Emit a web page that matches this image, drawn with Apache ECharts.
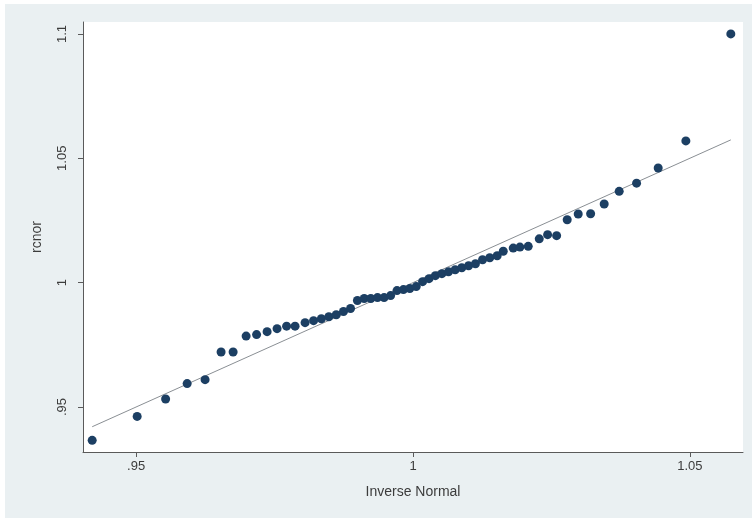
<!DOCTYPE html>
<html>
<head>
<meta charset="utf-8">
<title>Normal quantile plot of rcnor</title>
<script src="https://cdn.jsdelivr.net/npm/echarts@6/dist/echarts.min.js"></script>
<style>
  html, body { margin: 0; padding: 0; background: #ffffff; }
  #chart { width: 752px; height: 518px; }
</style>
</head>
<body>
<div id="chart"></div>
<script>
// Inverse-normal quantiles (x) and the sorted rcnor values (y)
const inverseNormal = [
  0.94206, 0.95018, 0.95532, 0.95921, 0.96245, 0.96534, 0.96751, 0.96986, 0.97175, 0.97365,
  0.97545, 0.97717, 0.97870, 0.98051, 0.98204, 0.98345, 0.98480, 0.98614, 0.98744, 0.98872,
  0.98996, 0.99119, 0.99238, 0.99359, 0.99478, 0.99596, 0.99711, 0.99827, 0.99942, 1.00058,
  1.00173, 1.00289, 1.00404, 1.00522, 1.00641, 1.00762, 1.00881, 1.01004, 1.01128, 1.01256,
  1.01386, 1.01520, 1.01630, 1.01810, 1.01931, 1.02081, 1.02280, 1.02431, 1.02594, 1.02785,
  1.02984, 1.03208, 1.03453, 1.03724, 1.04038, 1.04428, 1.04928, 1.05740
];
const rcnor = [
  0.9366, 0.9462, 0.9532, 0.9594, 0.9610, 0.9721, 0.9721, 0.9785, 0.9791, 0.9803,
  0.9815, 0.9825, 0.9825, 0.9839, 0.9847, 0.9855, 0.9863, 0.9871, 0.9884, 0.9896,
  0.9928, 0.9936, 0.9936, 0.9940, 0.9940, 0.9948, 0.9968, 0.9972, 0.9976, 0.9984,
  1.0004, 1.0016, 1.0028, 1.0036, 1.0044, 1.0052, 1.0060, 1.0068, 1.0076, 1.0092,
  1.0100, 1.0108, 1.0126, 1.0139, 1.0143, 1.0146, 1.0176, 1.0193, 1.0189, 1.0253,
  1.0276, 1.0277, 1.0316, 1.0367, 1.0400, 1.0461, 1.0570, 1.1000
];
// Reference line y = x across the quantile range
const refLine = [0.94206, 1.05740];

// Axis ticks and their labels
const xTicks = [0.95, 1.0, 1.05];
const xTickLabels = ['.95', '1', '1.05'];
const yTicks = [0.95, 1.0, 1.05, 1.1];
const yTickLabels = ['.95', '1', '1.05', '1.1'];

const points = inverseNormal.map((x, i) => [x, rcnor[i]]);
const lineData = refLine.map(v => [v, v]);

function tickText(ticks, labels) {
  return v => {
    const k = ticks.findIndex(t => Math.abs(t - v) < 1e-6);
    return k >= 0 ? labels[k] : '';
  };
}

const chart = echarts.init(document.getElementById('chart'), null, { renderer: 'canvas' });
const font = 'Liberation Sans, Arial, sans-serif';
const axisCol = '#5a5a5a';
const textCol = '#3c3c3c';

chart.setOption({
  animation: false,
  backgroundColor: '#ffffff',
  graphic: [{
    type: 'rect',
    left: 5, top: 4,
    shape: { width: 747, height: 514 },
    style: { fill: '#eaf0f2' },
    z: -10
  }],
  grid: {
    left: 83, top: 22, width: 660, height: 430,
    show: true, backgroundColor: '#ffffff', borderWidth: 0
  },
  xAxis: {
    type: 'value',
    min: 0.9404, max: 1.0596,
    name: 'Inverse Normal',
    nameLocation: 'middle',
    nameGap: 33,
    nameTextStyle: { fontFamily: font, fontSize: 14, color: textCol },
    axisLine: { show: true, onZero: false, lineStyle: { color: axisCol, width: 1 } },
    axisTick: { show: true, length: 5, lineStyle: { color: axisCol }, customValues: xTicks },
    axisLabel: {
      fontFamily: font, fontSize: 13, color: textCol, margin: 8,
      customValues: xTicks, formatter: tickText(xTicks, xTickLabels)
    },
    splitLine: { show: false }
  },
  yAxis: {
    type: 'value',
    min: 0.9319, max: 1.1048,
    name: 'rcnor',
    nameLocation: 'middle',
    nameGap: 39,
    nameRotate: 90,
    nameTextStyle: { fontFamily: font, fontSize: 14, color: textCol },
    axisLine: { show: true, onZero: false, lineStyle: { color: axisCol, width: 1 } },
    axisTick: { show: true, length: 5, lineStyle: { color: axisCol }, customValues: yTicks },
    axisLabel: {
      fontFamily: font, fontSize: 13, color: textCol, margin: 14, rotate: 90,
      customValues: yTicks, formatter: tickText(yTicks, yTickLabels)
    },
    splitLine: { show: false }
  },
  series: [
    {
      type: 'line',
      data: lineData,
      symbol: 'none',
      lineStyle: { color: '#8a8f94', width: 1 },
      z: 2
    },
    {
      type: 'scatter',
      data: points,
      symbol: 'circle',
      symbolSize: 9,
      itemStyle: { color: '#1c3f63', opacity: 1 },
      z: 3
    }
  ]
});
</script>
</body>
</html>
